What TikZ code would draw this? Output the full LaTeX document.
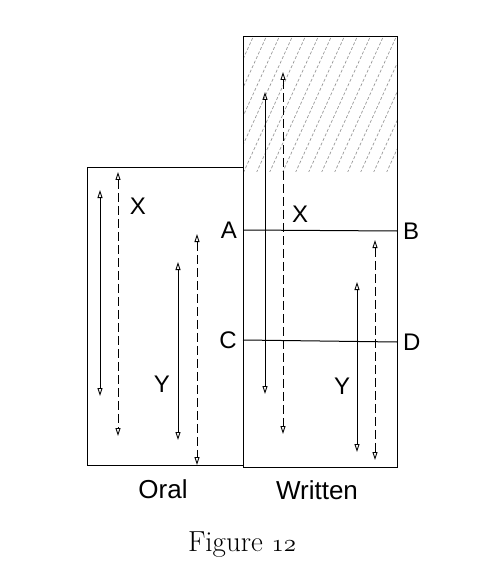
\documentclass[tikz,border=0pt]{standalone}
\usepackage{fontspec}
\newfontfamily\letterfont{Liberation Sans}
\usetikzlibrary{arrows.meta}

\begin{document}
\begin{tikzpicture}[x=1pt, y=-1pt,
  wall/.style={draw, line width=1pt},
  twoway/.style={line width=0.9pt, {Triangle[open,length=8pt,width=5pt]}-{Triangle[open,length=8pt,width=5pt]}},
  twowaydash/.style={twoway, dash pattern=on 9pt off 4pt},
  letter/.style={font=\letterfont\fontsize{24}{28}\selectfont, inner sep=1pt},
  caption/.style={font=\letterfont\fontsize{26}{30}\selectfont},
]
  \useasboundingbox (0,0) rectangle (490,585);

  % Hatched top of the written column
  \begin{scope}
    \clip (243,37) rectangle (397,172);
    \foreach \s in {-120,-107,...,400}
      \draw[gray!80, line width=0.7pt, dash pattern=on 3pt off 2pt] (\s,200) -- ++(100,-220);
  \end{scope}

  % Oral
  \draw[wall] (87,168) rectangle (243,465);
  % Written
  \draw[wall] (243,37) rectangle (397,467);

  % Levels
  \coordinate (a) at (243,230);
  \coordinate (b) at (397,231);
  \coordinate (c) at (243,340);
  \coordinate (d) at (397,342);
  \draw[wall] (a) -- (b);
  \draw[wall] (c) -- (d);
  \node[letter, anchor=east] (lblA) at ([xshift=-5pt]a) {A};
  \node[letter, anchor=west] (lblB) at ([xshift=5pt]b) {B};
  \node[letter, anchor=east] (lblC) at ([xshift=-5pt]c) {C};
  \node[letter, anchor=west] (lblD) at ([xshift=5pt]d) {D};

  % Arrows, oral
  \draw[twoway] (100,190) -- (100,396);
  \draw[twowaydash] (118,172) -- (118,436);
  \draw[twoway] (178,262) -- (178,440);
  \draw[twowaydash] (197,234) -- (197,465);
  \node[letter] (oralX) at (138,206) {X};
  \node[letter] (oralY) at (162,384) {Y};

  % Arrows, written
  \draw[twoway] (265,92) -- (265,394);
  \draw[twowaydash] (283,72) -- (283,434);
  \draw[twoway] (357,282) -- (357,452);
  \draw[twowaydash] (375,240) -- (375,460);
  \node[letter] (writX) at (300,214) {X};
  \node[letter] (writY) at (342,386) {Y};

  % Captions
  \node[caption] (oral) at (163,489) {Oral};
  \node[caption] (written) at (317,490) {Written};
  \node[font=\fontsize{29}{32}\selectfont] (fig) at (242,545) {Figure {\usefont{OML}{lmm}{m}{it}12}};
\end{tikzpicture}
\end{document}
